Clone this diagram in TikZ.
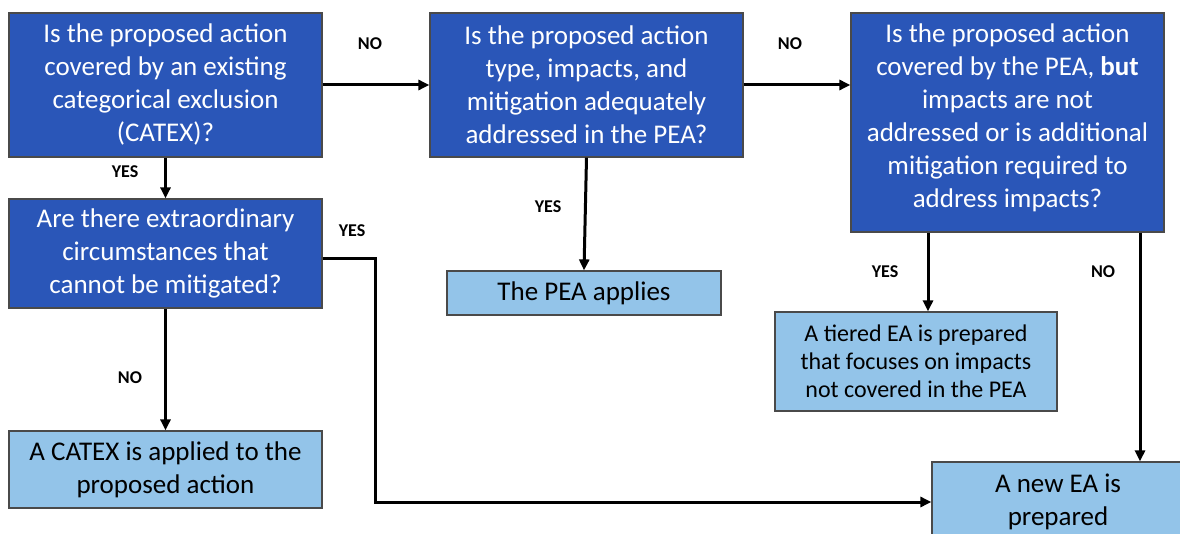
\documentclass[tikz,border=0pt]{standalone}
\usepackage{fontspec}
\setmainfont{Carlito}
\usetikzlibrary{arrows.meta, positioning, calc}
\definecolor{questionblue}{HTML}{2A56B8}
\definecolor{resultblue}{HTML}{93C4E9}
\definecolor{edgegray}{HTML}{4A4A4A}

\begin{document}
\begin{tikzpicture}[x=1pt, y=-1pt,
    question/.style={draw=edgegray, line width=1.2pt, fill=questionblue, text=white, align=center, inner sep=0pt, font=\fontsize{27}{33}\selectfont},
    result/.style={draw=edgegray, line width=1.2pt, fill=resultblue, text=black, align=center, inner sep=0pt, font=\fontsize{27}{33}\selectfont},
    answer/.style={font=\fontsize{18}{20}\selectfont\bfseries},
    arr/.style={line width=3pt, -{Triangle[length=11pt,width=10pt]}}]
  \path[use as bounding box, clip] (0,0) rectangle (1180,534);
  % Preguntas
  \node[question, minimum width=313pt, minimum height=144pt] (catex) at (165.5,85) {Is the proposed action\\covered by an existing\\categorical exclusion\\(CATEX)?};
  \node[question, minimum width=313pt, minimum height=144pt] (pea) at (586.5,85) {Is the proposed action\\type, impacts, and\\mitigation adequately\\addressed in the PEA?};
  \node[question, minimum width=313pt, minimum height=219pt, text depth=14pt] (covered) at (1007.5,122.5) {Is the proposed action\\covered by the PEA, \textbf{but}\\impacts are not\\addressed or is additional\\mitigation required to\\address impacts?};
  \node[question, minimum width=313pt, minimum height=109pt] (extra) at (165.5,253.5) {Are there extraordinary\\circumstances that\\cannot be mitigated?};
  % Resultados
  \node[result, minimum width=274pt, minimum height=44pt] (applies) at (584,293) {The PEA applies};
  \node[result, minimum width=282pt, minimum height=99pt, font=\fontsize{24}{28}\selectfont] (tiered) at (916,361.5) {A tiered EA is prepared\\that focuses on impacts\\not covered in the PEA};
  \node[result, minimum width=313pt, minimum height=77pt] (applied) at (165.5,469.5) {A CATEX is applied to the\\proposed action};
  \node[result, minimum width=252pt, minimum height=80pt] (newea) at (1058,502) {A new EA is\\prepared};
  % Flechas
  \draw[arr] (catex.east) -- (pea.west);
  \draw[arr] (pea.east) -- (covered.west |- pea.east);
  \draw[arr] (catex.south) -- (extra.north);
  \draw[arr] (extra.south) -- (applied.north);
  \draw[arr] (extra.east |- 0,259) -- (375,259) |- (newea.west);
  \draw[arr] (pea.south) -- (applies.north);
  \draw[arr] (928,0 |- covered.south) -- (928,0 |- tiered.north);
  \draw[arr] (1140,0 |- covered.south) -- (1140,0 |- newea.north);
  % Respuestas
  \node[answer] (no1) at (370,44) {NO};
  \node[answer] (no2) at (790,44) {NO};
  \node[answer] (yes1) at (125,172) {YES};
  \node[answer] (yes2) at (352,231) {YES};
  \node[answer] (no3) at (130,378) {NO};
  \node[answer] (yes3) at (548,207) {YES};
  \node[answer] (yes4) at (885,272) {YES};
  \node[answer] (no4) at (1103,272) {NO};
\end{tikzpicture}
\end{document}
